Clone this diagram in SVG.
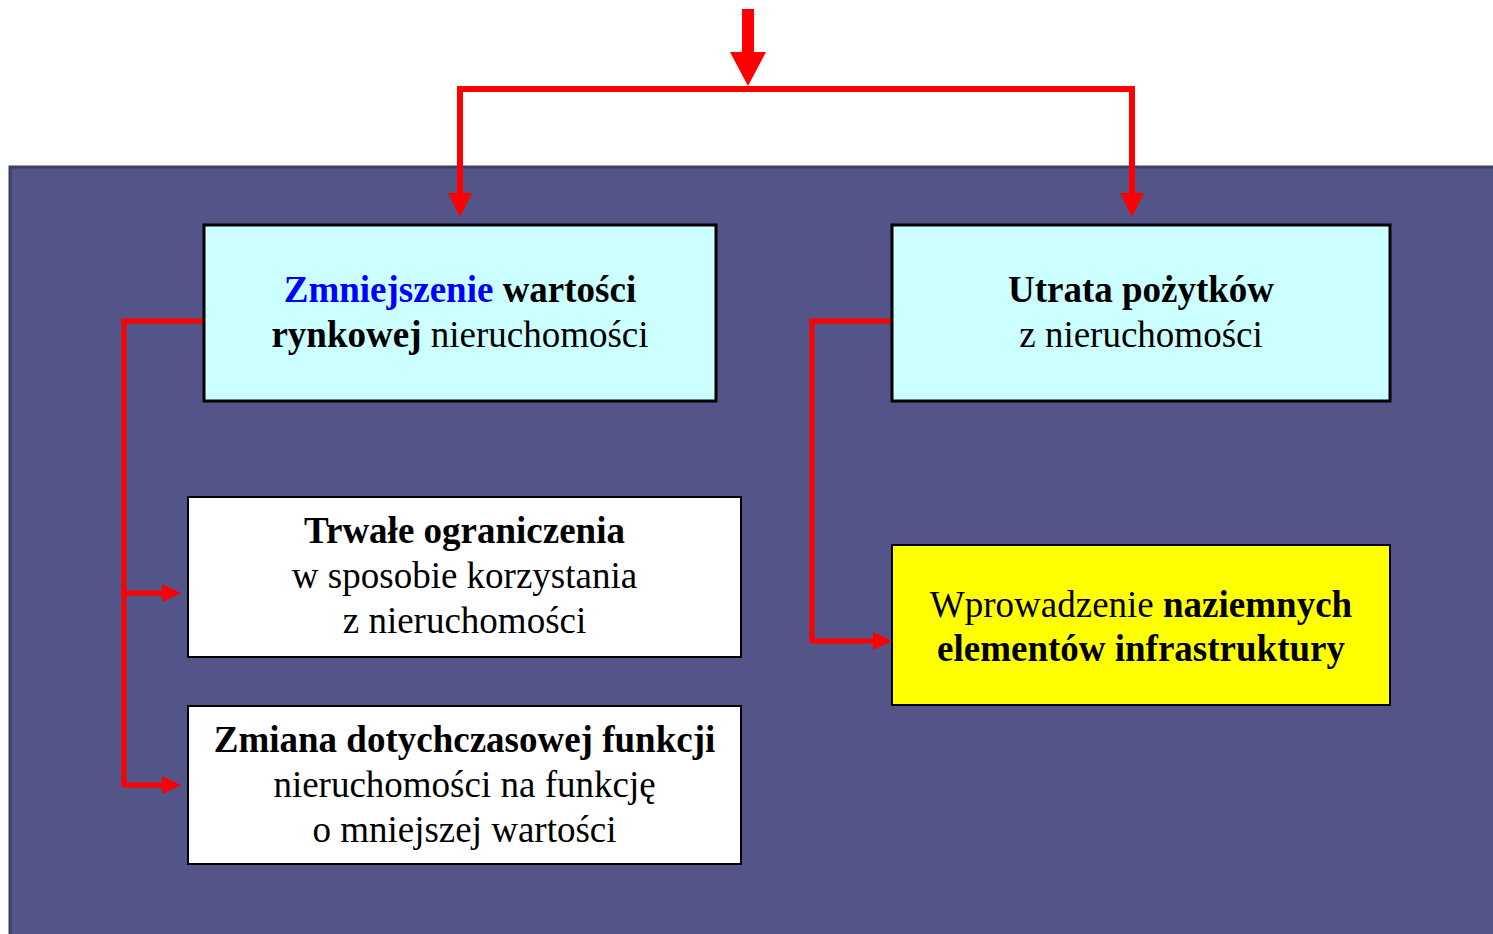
<svg xmlns="http://www.w3.org/2000/svg" width="1493" height="934" viewBox="0 0 1493 934">
<style>
text{font-family:"Liberation Serif","Times New Roman",serif;font-size:37px;fill:#000;text-anchor:middle}
.b{font-weight:bold}
.blue{fill:#0000ff}
.box{stroke:#000}
.cyan{fill:#ccffff;stroke-width:3}
.white{fill:#ffffff;stroke-width:2}
.yellow{fill:#ffff00;stroke-width:2}
.wire{fill:none;stroke:#ff0000;stroke-width:6}
.head{fill:#ff0000}
</style>
<rect x="0" y="0" width="1493" height="934" fill="#ffffff"/>
<rect x="10" y="167" width="1490" height="780" fill="#535488" stroke="#3e3f66" stroke-width="3"/>
<g id="connectors">
<path class="wire" d="M748 9 V56" style="stroke-width:12"/>
<polygon class="head" points="730,52 766,52 748,86"/>
<path class="wire" d="M460 196 V89 H1132 V196"/>
<polygon class="head" points="448,193 472,193 460,217"/>
<polygon class="head" points="1120,193 1144,193 1132,217"/>
<path class="wire" d="M203 321 H124 V785 H166" style="stroke-width:5"/>
<path class="wire" d="M124 593 H166" style="stroke-width:5"/>
<polygon class="head" points="162,584 162,602 181,593"/>
<polygon class="head" points="162,776 162,794 181,785"/>
<path class="wire" d="M891 321 H812 V641 H876" style="stroke-width:5"/>
<polygon class="head" points="873,632 873,650 892,641"/>
</g>
<g id="node-zmniejszenie">
<rect class="box cyan" x="204" y="225" width="512" height="176"/>
<text x="460" y="302"><tspan class="b blue">Zmniejszenie</tspan> <tspan class="b">wartości</tspan></text>
<text x="460" y="347"><tspan class="b">rynkowej</tspan> nieruchomości</text>
</g>
<g id="node-utrata">
<rect class="box cyan" x="892" y="225" width="498" height="176"/>
<text class="b" x="1141" y="302">Utrata pożytków</text>
<text x="1141" y="347">z nieruchomości</text>
</g>
<g id="node-trwale">
<rect class="box white" x="188" y="497" width="553" height="160"/>
<text class="b" x="464.5" y="543">Trwałe ograniczenia</text>
<text x="464.5" y="588">w sposobie korzystania</text>
<text x="464.5" y="633">z nieruchomości</text>
</g>
<g id="node-zmiana">
<rect class="box white" x="188" y="706" width="553" height="158"/>
<text class="b" x="464.5" y="752">Zmiana dotychczasowej funkcji</text>
<text x="464.5" y="797">nieruchomości na funkcję</text>
<text x="464.5" y="842">o mniejszej wartości</text>
</g>
<g id="node-wprowadzenie">
<rect class="box yellow" x="892" y="545" width="498" height="160"/>
<text x="1141" y="617">Wprowadzenie <tspan class="b">naziemnych</tspan></text>
<text class="b" x="1141" y="661">elementów infrastruktury</text>
</g>
</svg>
